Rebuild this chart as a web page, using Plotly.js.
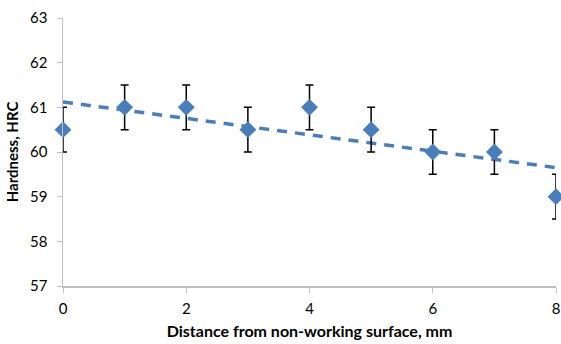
<!DOCTYPE html>
<html>
<head>
<meta charset="utf-8">
<script src="https://cdn.plot.ly/plotly-3.0.1.min.js"></script>
<style>html,body{margin:0;padding:0;background:#fff}#chart{width:561px;height:344px}</style>
</head>
<body>
<div id="chart"></div>
<script>
const distance = [0, 1, 2, 3, 4, 5, 6, 7, 8];
const hardness = [60.5, 61, 61, 60.5, 61, 60.5, 60, 60, 59];
const errorHRC = [0.5, 0.5, 0.5, 0.5, 0.5, 0.5, 0.5, 0.5, 0.5];
const trendX = [0, 8];
const trendY = [61.12, 59.65];
const xTicks = [0, 2, 4, 6, 8];
const yTicks = [57, 58, 59, 60, 61, 62, 63];

const font = "Lato, 'Open Sans', sans-serif";

const data = [
  {
    x: trendX, y: trendY, type: 'scatter', mode: 'lines',
    line: {color: '#4a7ebb', width: 3.5, dash: '10px,8px'},
    hoverinfo: 'skip', cliponaxis: false
  },
  {
    x: distance, y: hardness, type: 'scatter', mode: 'markers',
    marker: {symbol: 'diamond', size: 13, color: '#4a7ebb', line: {width: 0}},
    error_y: {type: 'data', array: errorHRC, visible: true, color: '#000000', thickness: 1.5, width: 4},
    cliponaxis: false
  }
];

const layout = {
  width: 561, height: 344,
  margin: {l: 63, r: 5, t: 18, b: 58},
  paper_bgcolor: '#ffffff', plot_bgcolor: '#ffffff',
  showlegend: false,
  font: {family: font, size: 13, color: '#000'},
  xaxis: {
    range: [0, 8], tickvals: xTicks, ticktext: xTicks.map(String),
    showgrid: false, zeroline: false, showline: true, linecolor: '#bfbfbf', linewidth: 1.5,
    ticks: 'outside', ticklen: 5, tickcolor: '#bfbfbf', tickfont: {size: 15, family: font},
    ticklabelstandoff: 3,
    title: {text: '<b>Distance from non-working surface, mm</b>', font: {size: 16, family: font}, standoff: 10}
  },
  yaxis: {
    range: [57, 63], tickvals: yTicks, ticktext: yTicks.map(String),
    showgrid: false, zeroline: false, showline: true, linecolor: '#bfbfbf', linewidth: 1.5,
    ticks: 'outside', ticklen: 5, tickcolor: '#bfbfbf', tickfont: {size: 15, family: font},
    ticklabelstandoff: 6,
    title: {text: '<b>Hardness, HRC</b>', font: {size: 15, family: font}, standoff: 8}
  }
};

Plotly.newPlot('chart', data, layout, {displayModeBar: false, staticPlot: true});
</script>
</body>
</html>
